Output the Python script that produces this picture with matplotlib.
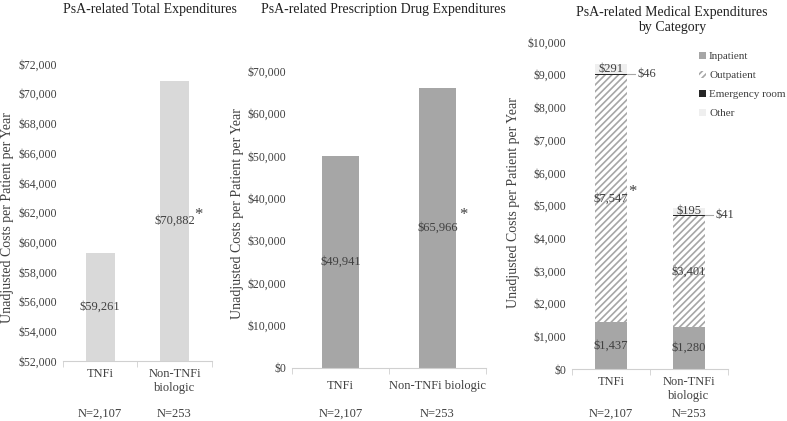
import matplotlib
matplotlib.use('Agg')
import matplotlib.pyplot as plt
from matplotlib.patches import Patch
from matplotlib.ticker import FuncFormatter
from matplotlib.transforms import blended_transform_factory

plt.rcParams['font.family'] = ['Liberation Serif', 'DejaVu Serif']
plt.rcParams['hatch.color'] = '#a6a6a6'
plt.rcParams['hatch.linewidth'] = 1.2

# data
groups = ['TNFi', 'Non-TNFi\nbiologic']
groups_rx = ['TNFi', 'Non-TNFi biologic']
n_labels = ['N=2,107', 'N=253']
total_cost = [59261, 70882]
rx_cost = [49941, 65966]
inpatient = [1437, 1280]
outpatient = [7547, 3401]
emergency = [46, 41]
other = [291, 195]
categories = ['Inpatient', 'Outpatient', 'Emergency room', 'Other']

txt = '#404040'
ylab = 'Unadjusted Costs per Patient per Year'
money = FuncFormatter(lambda v, p: '${:,.0f}'.format(v))
W, H = 787, 421

fig = plt.figure(figsize=(7.87, 4.21), dpi=100)


def px(x, y):
    # pixel position (from top-left) -> figure fraction
    return x / W, 1 - y / H


def style(ax):
    for s in ['top', 'right', 'left']:
        ax.spines[s].set_visible(False)
    ax.spines['bottom'].set_color('#d0d0d0')
    ax.tick_params(axis='y', length=0, labelsize=8.5, labelcolor=txt, pad=4)
    ax.tick_params(axis='x', length=0, labelsize=9, labelcolor=txt, pad=5)
    ax.set_xticks([-0.5, 0.5, 1.5], minor=True)
    ax.tick_params(axis='x', which='minor', length=4, color='#d0d0d0')
    ax.set_xlim(-0.5, 1.5)
    ax.yaxis.set_major_formatter(money)
    tr = blended_transform_factory(ax.transData, fig.transFigure)
    for i, n in enumerate(n_labels):
        ax.text(i, px(0, 414)[1], n, transform=tr, ha='center', va='center',
                fontsize=9, color=txt)


# panel 1: total
ax1 = fig.add_axes([0.080, 0.1425, 0.189, 0.7055])
ax1.bar(range(2), total_cost, width=0.39, color='#d9d9d9')
ax1.set_ylim(52000, 72000)
ax1.set_yticks(range(52000, 72001, 2000))
ax1.set_xticks(range(2), groups)
style(ax1)
for i, v in enumerate(total_cost):
    ax1.text(i, (52000 + v) / 2, '${:,}'.format(v), ha='center', va='center',
             fontsize=9, color=txt)
ax1.text(1.32, 61800, '*', ha='center', va='center', fontsize=12, color=txt)

# panel 2: prescription
ax2 = fig.add_axes([0.371, 0.126, 0.2465, 0.7055])
ax2.bar(range(2), rx_cost, width=0.39, color='#a6a6a6')
ax2.set_ylim(0, 70000)
ax2.set_yticks(range(0, 70001, 10000))
ax2.set_xticks(range(2), groups_rx)
style(ax2)
ax2.tick_params(axis='x', pad=9)
for i, v in enumerate(rx_cost):
    ax2.text(i, v / 2, '${:,}'.format(v), ha='center', va='center',
             fontsize=9, color=txt)
ax2.text(1.27, 36000, '*', ha='center', va='center', fontsize=12, color=txt)

# panel 3: medical by category
ax3 = fig.add_axes([0.7268, 0.1235, 0.198, 0.7767])
x = range(2)
w = 0.41
b1 = inpatient
b2 = [a + b for a, b in zip(b1, outpatient)]
b3 = [a + b for a, b in zip(b2, emergency)]
ax3.bar(x, inpatient, width=w, color='#a6a6a6')
ax3.bar(x, outpatient, width=w, bottom=b1, color='white', hatch='/////',
        edgecolor='#a6a6a6', linewidth=0)
ax3.bar(x, emergency, width=w, bottom=b2, color='#262626')
ax3.bar(x, other, width=w, bottom=b3, color='#efefef')
ax3.set_ylim(0, 10000)
ax3.set_yticks(range(0, 10001, 1000))
ax3.set_xticks(range(2), groups)
style(ax3)
for i in x:
    ax3.text(i, inpatient[i] / 2, '${:,}'.format(inpatient[i]), ha='center',
             va='center', fontsize=9, color=txt)
    ax3.text(i, b1[i] + outpatient[i] / 2, '${:,}'.format(outpatient[i]),
             ha='center', va='center', fontsize=9, color=txt)
    ax3.text(i, b3[i] + other[i] / 2, '${:,}'.format(other[i]), ha='center',
             va='center', fontsize=9, color=txt)
    ym = b2[i] + emergency[i] / 2
    ax3.plot([i + w / 2, i + w / 2 + 0.1], [ym, ym], color='#a6a6a6', lw=0.8,
             clip_on=False)
    ax3.text(i + w / 2 + 0.14, ym, '${:,}'.format(emergency[i]), ha='left',
             va='center', fontsize=9, color=txt)
ax3.text(0.28, 5400, '*', ha='center', va='center', fontsize=12, color=txt)
handles = [Patch(facecolor='#a6a6a6'),
           Patch(facecolor='white', hatch='/////', edgecolor='#a6a6a6', lw=0),
           Patch(facecolor='#262626'),
           Patch(facecolor='#efefef')]
fig.legend(handles, categories, loc='upper left', bbox_to_anchor=px(699, 52),
           frameon=False, fontsize=8, labelcolor=txt, handlelength=0.6,
           handleheight=0.6, handletextpad=0.3, labelspacing=0.85,
           borderaxespad=0, borderpad=0)

# titles and y labels
title_kw = dict(ha='center', va='center', fontsize=10, color='#202020')
fig.text(*px(150, 10), 'PsA-related Total Expenditures', **title_kw)
fig.text(*px(383, 10), 'PsA-related Prescription Drug Expenditures', **title_kw)
fig.text(*px(672, 20), 'PsA-related Medical Expenditures\nby Category',
         linespacing=1.15, **title_kw)
ylab_kw = dict(ha='center', va='center', rotation=90, fontsize=10, color=txt)
fig.text(*px(8, 218), ylab, **ylab_kw)
fig.text(*px(237, 214), ylab, **ylab_kw)
fig.text(*px(514, 203), ylab, **ylab_kw)

fig.savefig('out.png', dpi=100)
